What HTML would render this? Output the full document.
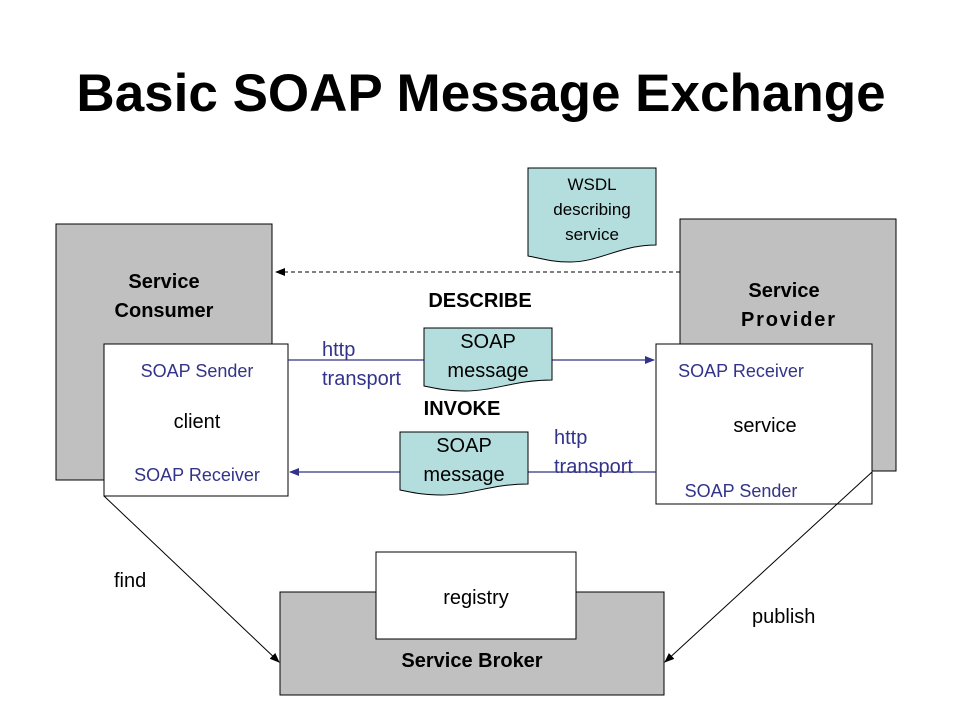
<!DOCTYPE html>
<html><head><meta charset="utf-8"><style>
html,body{margin:0;padding:0;background:#fff;}
svg{display:block;font-family:"Liberation Sans",Arial,sans-serif;}
</style></head><body>
<svg width="960" height="720" viewBox="0 0 960 720" xmlns="http://www.w3.org/2000/svg">
<defs>
<marker id="ab" markerWidth="10" markerHeight="8" refX="9" refY="4" orient="auto" markerUnits="userSpaceOnUse"><path d="M0,0 L10,4 L0,8 Z" fill="#33338a"/></marker>
<marker id="ak" markerWidth="10" markerHeight="8" refX="9" refY="4" orient="auto" markerUnits="userSpaceOnUse"><path d="M0,0 L10,4 L0,8 Z" fill="#000"/></marker>
</defs>
<text x="481" y="111" text-anchor="middle" font-size="53" font-weight="bold">Basic SOAP Message Exchange</text>

<rect x="56" y="224" width="216" height="256" fill="#c0c0c0" stroke="#000"/>
<text x="164" y="288" text-anchor="middle" font-size="20" font-weight="bold">Service</text>
<text x="164" y="317" text-anchor="middle" font-size="20" font-weight="bold">Consumer</text>
<rect x="104" y="344" width="184" height="152" fill="#fff" stroke="#000"/>
<text x="197" y="377" text-anchor="middle" font-size="18" fill="#33338a">SOAP Sender</text>
<text x="197" y="428" text-anchor="middle" font-size="20">client</text>
<text x="197" y="481" text-anchor="middle" font-size="18" fill="#33338a">SOAP Receiver</text>

<rect x="680" y="219" width="216" height="252" fill="#c0c0c0" stroke="#000"/>
<text x="784" y="297" text-anchor="middle" font-size="20" font-weight="bold">Service</text>
<text x="788" y="326" text-anchor="middle" font-size="20" font-weight="bold" textLength="94">Provider</text>
<rect x="656" y="344" width="216" height="160" fill="#fff" stroke="#000"/>
<text x="741" y="377" text-anchor="middle" font-size="18" fill="#33338a">SOAP Receiver</text>
<text x="765" y="432" text-anchor="middle" font-size="20">service</text>
<text x="741" y="497" text-anchor="middle" font-size="18" fill="#33338a">SOAP Sender</text>

<path d="M528,168 H656 V245 C620,245 600,262 570,262 C550,262 540,258 528,256 Z" fill="#b4dede" stroke="#000"/>
<text x="592" y="190" text-anchor="middle" font-size="17">WSDL</text>
<text x="592" y="215" text-anchor="middle" font-size="17">describing</text>
<text x="592" y="240" text-anchor="middle" font-size="17">service</text>
<line x1="680" y1="272" x2="276" y2="272" stroke="#000" stroke-dasharray="4,3" marker-end="url(#ak)"/>
<text x="480" y="307" text-anchor="middle" font-size="20" font-weight="bold">DESCRIBE</text>

<line x1="288" y1="360" x2="654" y2="360" stroke="#33338a" stroke-width="1.3" marker-end="url(#ab)"/>
<path d="M424,328 H552 V380 C515,380 495,391 465,391 C445,391 435,388 424,386 Z" fill="#b4dede" stroke="#000"/>
<text x="488" y="348" text-anchor="middle" font-size="20">SOAP</text>
<text x="488" y="377" text-anchor="middle" font-size="20">message</text>
<text x="322" y="356" font-size="20" fill="#33338a">http</text>
<text x="322" y="385" font-size="20" fill="#33338a">transport</text>
<text x="462" y="415" text-anchor="middle" font-size="20" font-weight="bold">INVOKE</text>

<line x1="656" y1="472" x2="290" y2="472" stroke="#33338a" stroke-width="1.3" marker-end="url(#ab)"/>
<path d="M400,432 H528 V484 C491,484 471,495 441,495 C421,495 411,492 400,490 Z" fill="#b4dede" stroke="#000"/>
<text x="464" y="452" text-anchor="middle" font-size="20">SOAP</text>
<text x="464" y="481" text-anchor="middle" font-size="20">message</text>
<text x="554" y="444" font-size="20" fill="#33338a">http</text>
<text x="554" y="473" font-size="20" fill="#33338a">transport</text>

<rect x="280" y="592" width="384" height="103" fill="#c0c0c0" stroke="#000"/>
<rect x="376" y="552" width="200" height="87" fill="#fff" stroke="#000"/>
<text x="476" y="604" text-anchor="middle" font-size="20">registry</text>
<text x="472" y="667" text-anchor="middle" font-size="20" font-weight="bold">Service Broker</text>

<line x1="104" y1="496" x2="279" y2="662" stroke="#000" marker-end="url(#ak)"/>
<line x1="872" y1="472" x2="665" y2="662" stroke="#000" marker-end="url(#ak)"/>
<text x="114" y="587" font-size="20">find</text>
<text x="752" y="623" font-size="20">publish</text>
</svg>
</body></html>
